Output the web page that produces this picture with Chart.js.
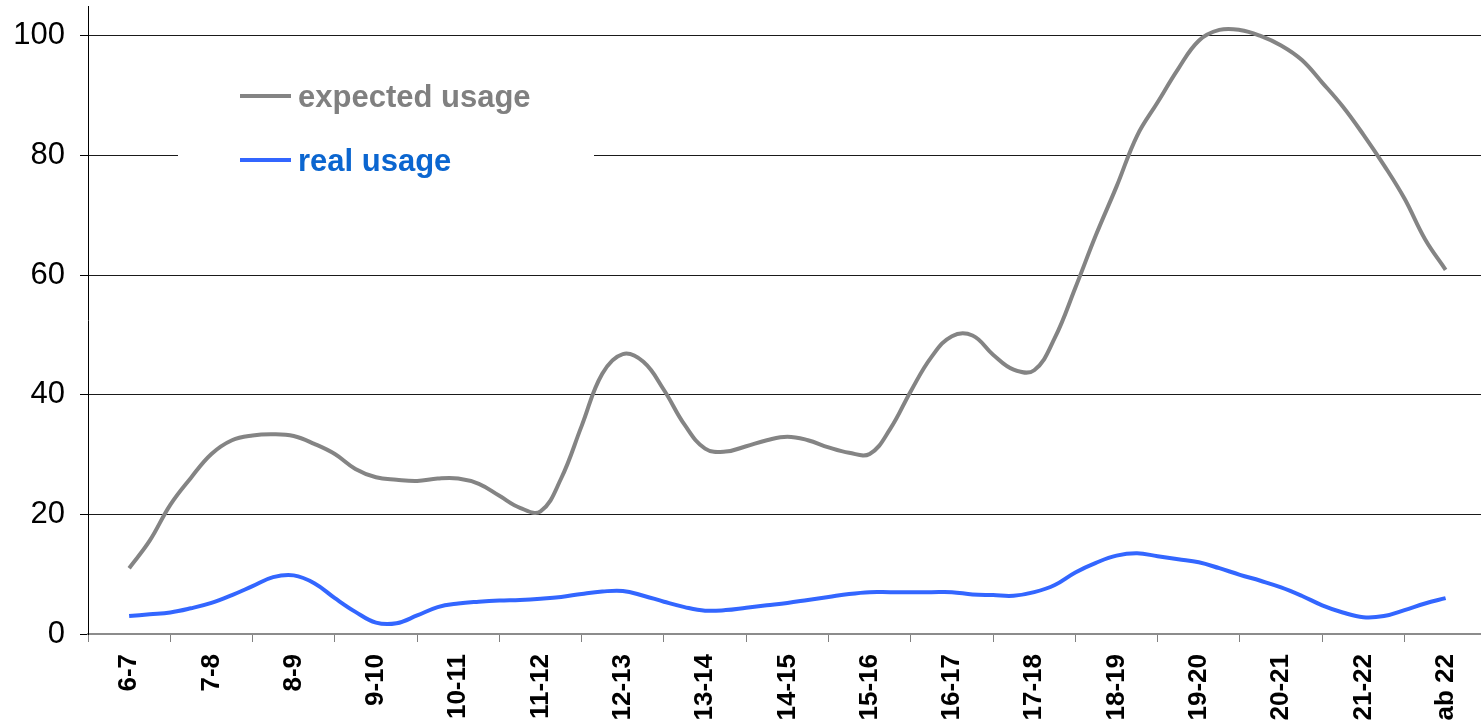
<!DOCTYPE html>
<html>
<head>
<meta charset="utf-8">
<title>Uso esperado vs real</title>
<script src="https://cdn.jsdelivr.net/npm/chart.js@4.4.0/dist/chart.umd.min.js"></script>
<style>
    body { margin: 0; background: #fff; }
    #contenedor { width: 1481px; height: 723px; }
</style>
</head>
<body>
<div id="contenedor"><canvas id="uso" width="1481" height="723"></canvas></div>
<script>
// Franjas horarias del eje X
const horas = ['6-7', '7-8', '8-9', '9-10', '10-11', '11-12', '12-13', '13-14', '14-15', '15-16', '16-17', '17-18', '18-19', '19-20', '20-21', '21-22', 'ab 22'];

// Lecturas cada 15 minutos (4 por franja)
const lecturasPorHora = 4;

const usoEsperado = [
    11.0, 15.6, 21.6, 26.1,
    30.1, 32.4, 33.2, 33.4,
    33.1, 31.8, 30.1, 27.6,
    26.2, 25.8, 25.6, 26.0,
    26.0, 25.1, 23.1, 21.1,
    20.5, 26.0, 34.8, 43.5,
    46.8, 45.5, 40.8, 35.0,
    31.0, 30.5, 31.4, 32.4,
    33.0, 32.4, 31.2, 30.3,
    30.1, 34.3, 40.6, 46.3,
    49.8, 49.9, 46.7, 44.2,
    44.1, 49.5, 57.9, 66.7,
    74.8, 83.3, 88.9, 94.5,
    99.2, 101.0, 101.0, 100.0,
    98.4, 96.0, 92.2, 88.2,
    83.5, 78.4, 72.8, 66.0,
    60.9
];

const usoReal = [
    3.0, 3.3, 3.6, 4.3,
    5.2, 6.5, 8.0, 9.5,
    9.8, 8.5, 6.0, 3.7,
    1.9, 1.8, 3.1, 4.5,
    5.1, 5.4, 5.6, 5.7,
    5.9, 6.2, 6.7, 7.1,
    7.2, 6.4, 5.4, 4.5,
    3.9, 4.0, 4.4, 4.8,
    5.2, 5.7, 6.2, 6.7,
    7.0, 7.0, 7.0, 7.0,
    7.0, 6.6, 6.5, 6.4,
    7.0, 8.2, 10.3, 11.9,
    13.1, 13.5, 13.0, 12.5,
    12.0, 11.0, 9.9, 8.9,
    7.8, 6.4, 4.8, 3.6,
    2.8, 3.0, 4.0, 5.1,
    6.0
];

const marcasY = [0, 20, 40, 60, 80, 100];

const fuente = 'Arial, "Liberation Sans", sans-serif';
const coloresTexto = ['#808080', '#0b66d0'];

// Pasa las lecturas a puntos {x, y} sobre el eje de horas
function aPuntos(serie) {
    return serie.map((v, i) => ({ x: i / lecturasPorHora, y: v }));
}

// Leyenda dentro del área del gráfico, con fondo blanco
const leyenda = {
    id: 'leyenda',
    afterDatasetsDraw(chart) {
        const ctx = chart.ctx;
        const izq = chart.chartArea.left;
        ctx.save();
        ctx.fillStyle = '#fff';
        ctx.fillRect(izq + 90, 55, 416, 140);
        chart.data.datasets.forEach((ds, i) => {
            const y = 96 + i * 64;
            ctx.strokeStyle = ds.borderColor;
            ctx.lineWidth = 4;
            ctx.beginPath();
            ctx.moveTo(izq + 152, y);
            ctx.lineTo(izq + 203, y);
            ctx.stroke();
            ctx.fillStyle = coloresTexto[i];
            ctx.font = 'bold 31px ' + fuente;
            ctx.textBaseline = 'middle';
            ctx.fillText(ds.label, izq + 210, y + 2);
        });
        ctx.restore();
    }
};

const ctx = document.getElementById('uso').getContext('2d');
const grafica = new Chart(ctx, {
    type: 'line',
    data: {
        datasets: [{
            label: 'expected usage',
            data: aPuntos(usoEsperado),
            borderColor: '#848484',
            borderWidth: 4,
            pointRadius: 0,
            tension: 0.4,
            fill: false
        }, {
            label: 'real usage',
            data: aPuntos(usoReal),
            borderColor: '#3366ff',
            borderWidth: 4,
            pointRadius: 0,
            tension: 0.4,
            fill: false
        }]
    },
    options: {
        responsive: false,
        animation: false,
        layout: { padding: { top: 6, right: 0, left: 0, bottom: 0 } },
        plugins: {
            legend: { display: false },
            tooltip: { enabled: false }
        },
        scales: {
            x: {
                type: 'linear',
                min: -0.5,
                max: 16.43,
                afterBuildTicks: (escala) => { escala.ticks = horas.map((h, i) => ({ value: i })); },
                afterFit: (escala) => {
                    escala.height = 89;
                    escala.paddingLeft = 0;
                    escala.paddingRight = 0;
                },
                grid: {
                    offset: true,
                    drawOnChartArea: false,
                    drawTicks: true,
                    tickLength: 8,
                    color: '#808080'
                },
                border: { color: '#8c8c8c', width: 2 },
                ticks: {
                    autoSkip: false,
                    maxRotation: 90,
                    minRotation: 90,
                    padding: 12,
                    color: '#000',
                    font: { family: fuente, size: 26, weight: 'bold' },
                    callback: (valor) => horas[valor]
                }
            },
            y: {
                min: 0,
                max: 105,
                afterBuildTicks: (escala) => { escala.ticks = marcasY.map(v => ({ value: v })); },
                afterFit: (escala) => {
                    escala.width = 88;
                    escala.paddingTop = 0;
                    escala.paddingBottom = 0;
                },
                grid: {
                    color: (c) => c.tick && c.tick.value === 0 ? 'rgba(0,0,0,0)' : '#1a1a1a',
                    tickColor: '#000',
                    tickLength: 8,
                    lineWidth: 1
                },
                border: { color: '#000', width: 1 },
                ticks: {
                    padding: 15,
                    color: '#000',
                    font: { family: fuente, size: 31 }
                }
            }
        }
    },
    plugins: [leyenda]
});
</script>
</body>
</html>
